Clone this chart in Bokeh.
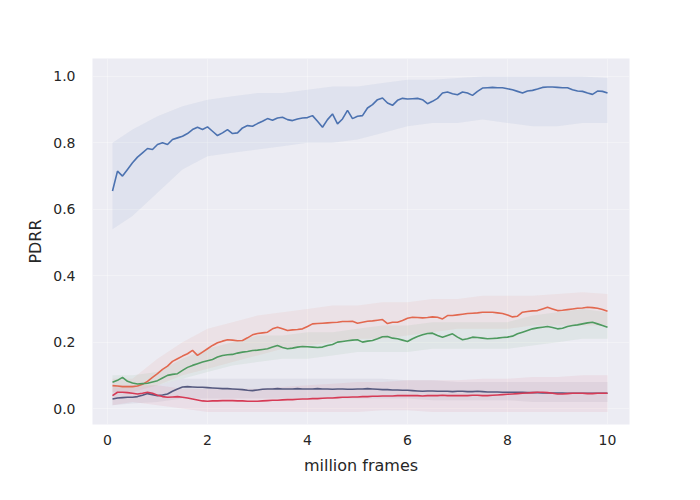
from bokeh.plotting import figure
from bokeh.models import Range1d, FixedTicker, PrintfTickFormatter
from bokeh.embed import file_html
from bokeh.resources import INLINE

# x positions (million frames), 0.1 .. 10.0 step 0.1
frames = [round(0.1 * i, 1) for i in range(1, 101)]

blue = [0.655, 0.715, 0.700, 0.720, 0.740, 0.757, 0.770, 0.783, 0.780, 0.795,
        0.800, 0.795, 0.810, 0.815, 0.820, 0.828, 0.840, 0.847, 0.840, 0.848,
        0.835, 0.822, 0.830, 0.840, 0.828, 0.830, 0.845, 0.852, 0.850, 0.858,
        0.865, 0.873, 0.868, 0.875, 0.877, 0.870, 0.867, 0.872, 0.875, 0.876,
        0.882, 0.865, 0.847, 0.870, 0.887, 0.857, 0.872, 0.898, 0.873, 0.880,
        0.882, 0.905, 0.915, 0.930, 0.935, 0.920, 0.913, 0.928, 0.934, 0.932,
        0.933, 0.934, 0.930, 0.918, 0.925, 0.934, 0.950, 0.953, 0.948, 0.945,
        0.953, 0.950, 0.943, 0.955, 0.965, 0.966, 0.967, 0.966, 0.966, 0.963,
        0.960, 0.955, 0.950, 0.956, 0.958, 0.962, 0.967, 0.968, 0.968, 0.967,
        0.966, 0.966, 0.960, 0.956, 0.955, 0.950, 0.946, 0.956, 0.955, 0.950]

orange = [0.069, 0.068, 0.066, 0.066, 0.066, 0.068, 0.073, 0.082, 0.094, 0.105,
          0.118, 0.128, 0.142, 0.150, 0.158, 0.165, 0.175, 0.160, 0.170, 0.180,
          0.190, 0.198, 0.203, 0.207, 0.206, 0.204, 0.205, 0.213, 0.222, 0.226,
          0.228, 0.230, 0.240, 0.245, 0.240, 0.235, 0.237, 0.238, 0.240, 0.247,
          0.255, 0.256, 0.257, 0.258, 0.259, 0.260, 0.262, 0.262, 0.263, 0.257,
          0.260, 0.263, 0.264, 0.266, 0.268, 0.256, 0.260, 0.260, 0.265, 0.272,
          0.275, 0.274, 0.273, 0.274, 0.276, 0.275, 0.270, 0.280, 0.280, 0.282,
          0.284, 0.286, 0.287, 0.288, 0.290, 0.290, 0.290, 0.288, 0.286, 0.282,
          0.276, 0.278, 0.290, 0.292, 0.294, 0.295, 0.300, 0.305, 0.300, 0.295,
          0.296, 0.298, 0.300, 0.302, 0.303, 0.305, 0.304, 0.302, 0.298, 0.293]

green = [0.079, 0.085, 0.094, 0.082, 0.077, 0.074, 0.075, 0.076, 0.080, 0.084,
         0.092, 0.100, 0.103, 0.105, 0.115, 0.124, 0.130, 0.135, 0.140, 0.144,
         0.148, 0.155, 0.160, 0.162, 0.163, 0.167, 0.170, 0.172, 0.175, 0.176,
         0.178, 0.180, 0.185, 0.190, 0.184, 0.180, 0.182, 0.185, 0.187, 0.186,
         0.185, 0.184, 0.185, 0.190, 0.193, 0.200, 0.202, 0.204, 0.206, 0.207,
         0.200, 0.203, 0.205, 0.210, 0.216, 0.217, 0.212, 0.210, 0.206, 0.202,
         0.210, 0.217, 0.222, 0.226, 0.227, 0.220, 0.215, 0.220, 0.225, 0.215,
         0.207, 0.210, 0.215, 0.214, 0.212, 0.210, 0.211, 0.212, 0.214, 0.215,
         0.218, 0.225, 0.230, 0.235, 0.240, 0.243, 0.245, 0.247, 0.244, 0.240,
         0.242, 0.247, 0.250, 0.252, 0.255, 0.258, 0.260, 0.255, 0.250, 0.245]

purple = [0.029, 0.032, 0.033, 0.034, 0.034, 0.036, 0.040, 0.045, 0.042, 0.039,
          0.041, 0.044, 0.052, 0.059, 0.065, 0.066, 0.065, 0.064, 0.064, 0.063,
          0.062, 0.061, 0.060, 0.060, 0.059, 0.058, 0.057, 0.055, 0.054, 0.056,
          0.058, 0.059, 0.059, 0.060, 0.059, 0.059, 0.059, 0.060, 0.059, 0.059,
          0.059, 0.060, 0.059, 0.059, 0.058, 0.059, 0.059, 0.058, 0.058, 0.059,
          0.059, 0.060, 0.059, 0.058, 0.057, 0.057, 0.056, 0.056, 0.055, 0.055,
          0.054, 0.053, 0.052, 0.053, 0.053, 0.052, 0.052, 0.052, 0.051, 0.052,
          0.052, 0.051, 0.051, 0.052, 0.051, 0.050, 0.050, 0.050, 0.049, 0.049,
          0.049, 0.049, 0.049, 0.048, 0.048, 0.048, 0.047, 0.047, 0.047, 0.047,
          0.047, 0.046, 0.046, 0.046, 0.046, 0.046, 0.046, 0.046, 0.046, 0.046]

red = [0.039, 0.049, 0.049, 0.048, 0.046, 0.044, 0.046, 0.049, 0.046, 0.040,
       0.036, 0.034, 0.035, 0.036, 0.034, 0.032, 0.029, 0.026, 0.023, 0.022,
       0.023, 0.023, 0.024, 0.024, 0.024, 0.023, 0.023, 0.022, 0.022, 0.022,
       0.023, 0.024, 0.025, 0.025, 0.026, 0.027, 0.027, 0.028, 0.029, 0.029,
       0.030, 0.030, 0.031, 0.032, 0.032, 0.033, 0.034, 0.034, 0.035, 0.035,
       0.036, 0.036, 0.037, 0.037, 0.038, 0.038, 0.038, 0.039, 0.039, 0.039,
       0.039, 0.039, 0.038, 0.039, 0.039, 0.039, 0.040, 0.039, 0.039, 0.039,
       0.039, 0.039, 0.040, 0.040, 0.039, 0.039, 0.040, 0.041, 0.042, 0.043,
       0.044, 0.045, 0.046, 0.047, 0.048, 0.049, 0.049, 0.048, 0.046, 0.044,
       0.044, 0.045, 0.046, 0.046, 0.046, 0.045, 0.045, 0.046, 0.046, 0.046]

# confidence bands, read at coarser x positions
band_frames = [0.1, 0.5, 1.0, 1.5, 2.0, 2.5, 3.0, 3.5, 4.0, 4.5, 5.0,
               5.5, 6.0, 6.5, 7.0, 7.5, 8.0, 8.5, 9.0, 9.5, 10.0]
blue_lo = [0.54, 0.58, 0.65, 0.72, 0.76, 0.77, 0.78, 0.79, 0.80, 0.80, 0.81,
           0.83, 0.85, 0.86, 0.86, 0.87, 0.86, 0.85, 0.85, 0.86, 0.86]
blue_hi = [0.80, 0.84, 0.88, 0.91, 0.93, 0.94, 0.95, 0.95, 0.96, 0.97, 0.97,
           0.98, 0.99, 0.99, 0.995, 1.0, 1.0, 1.0, 1.0, 1.0, 0.995]
orange_lo = [0.05, 0.05, 0.07, 0.10, 0.12, 0.14, 0.16, 0.18, 0.19, 0.20, 0.21,
             0.21, 0.22, 0.23, 0.24, 0.24, 0.24, 0.25, 0.25, 0.25, 0.25]
orange_hi = [0.09, 0.09, 0.15, 0.20, 0.24, 0.26, 0.28, 0.29, 0.30, 0.31, 0.31,
             0.32, 0.32, 0.33, 0.33, 0.34, 0.34, 0.34, 0.345, 0.35, 0.345]
green_lo = [0.06, 0.06, 0.07, 0.09, 0.11, 0.13, 0.14, 0.15, 0.15, 0.16, 0.17,
            0.17, 0.17, 0.18, 0.18, 0.18, 0.18, 0.19, 0.20, 0.21, 0.21]
green_hi = [0.10, 0.10, 0.11, 0.15, 0.18, 0.20, 0.22, 0.22, 0.23, 0.23, 0.24,
            0.25, 0.25, 0.26, 0.26, 0.26, 0.26, 0.28, 0.29, 0.30, 0.29]
purple_lo = [0.01, 0.015, 0.02, 0.03, 0.03, 0.03, 0.03, 0.03, 0.03, 0.03, 0.03,
             0.03, 0.03, 0.025, 0.025, 0.025, 0.025, 0.02, 0.02, 0.02, 0.02]
purple_hi = [0.06, 0.06, 0.07, 0.09, 0.09, 0.09, 0.09, 0.09, 0.09, 0.09, 0.09,
             0.09, 0.085, 0.085, 0.08, 0.08, 0.08, 0.08, 0.08, 0.08, 0.08]
red_lo = [0.01, 0.02, 0.01, 0.0, -0.01, -0.01, -0.01, -0.01, -0.01, -0.01, -0.01,
          -0.005, -0.005, -0.01, -0.01, -0.01, -0.01, -0.01, -0.01, -0.01, -0.01]
red_hi = [0.07, 0.07, 0.07, 0.06, 0.06, 0.06, 0.06, 0.065, 0.07, 0.075, 0.08,
          0.08, 0.085, 0.085, 0.085, 0.09, 0.09, 0.095, 0.095, 0.10, 0.10]

x_ticks = [0, 2, 4, 6, 8, 10]
y_ticks = [0.0, 0.2, 0.4, 0.6, 0.8, 1.0]

series = [
    (blue, blue_lo, blue_hi, "#4C72B0"),
    (orange, orange_lo, orange_hi, "#E2684F"),
    (green, green_lo, green_hi, "#4E9A5F"),
    (purple, purple_lo, purple_hi, "#55597F"),
    (red, red_lo, red_hi, "#D63A55"),
]

p = figure(frame_width=537, frame_height=366,
           x_range=Range1d(-0.3, 10.44), y_range=Range1d(-0.048, 1.054),
           output_backend="svg", toolbar_location=None,
           min_border_left=92, min_border_right=55,
           min_border_top=58, min_border_bottom=60)
p.background_fill_color = "#ECECF3"
p.border_fill_color = "white"
p.outline_line_color = None

for ys, lo, hi, col in series:
    p.varea(x=band_frames, y1=lo, y2=hi, fill_color=col, fill_alpha=0.08)
for ys, lo, hi, col in series:
    p.line(frames, ys, line_color=col, line_width=1.6)

for ax in (p.xaxis[0], p.yaxis[0]):
    ax.axis_line_color = None
    ax.major_tick_line_color = None
    ax.minor_tick_line_color = None
    ax.major_label_text_color = "#262626"
    ax.major_label_text_font = "DejaVu Sans"
    ax.major_label_text_font_size = "14px"
    ax.axis_label_text_color = "#262626"
    ax.axis_label_text_font = "DejaVu Sans"
    ax.axis_label_text_font_size = "16px"
    ax.axis_label_text_font_style = "normal"

p.xaxis.ticker = FixedTicker(ticks=x_ticks)
p.yaxis.ticker = FixedTicker(ticks=y_ticks)
p.yaxis.formatter = PrintfTickFormatter(format="%.1f")
p.xaxis.axis_label = "million frames"
p.yaxis.axis_label = "PDRR"
p.xaxis.major_label_standoff = 4
p.yaxis.major_label_standoff = 11
p.xaxis.axis_label_standoff = 8
p.yaxis.axis_label_standoff = 5

p.grid.grid_line_color = "white"
p.grid.grid_line_alpha = 0.3
p.grid.grid_line_width = 1

open("out.html", "w").write(file_html(p, INLINE))
